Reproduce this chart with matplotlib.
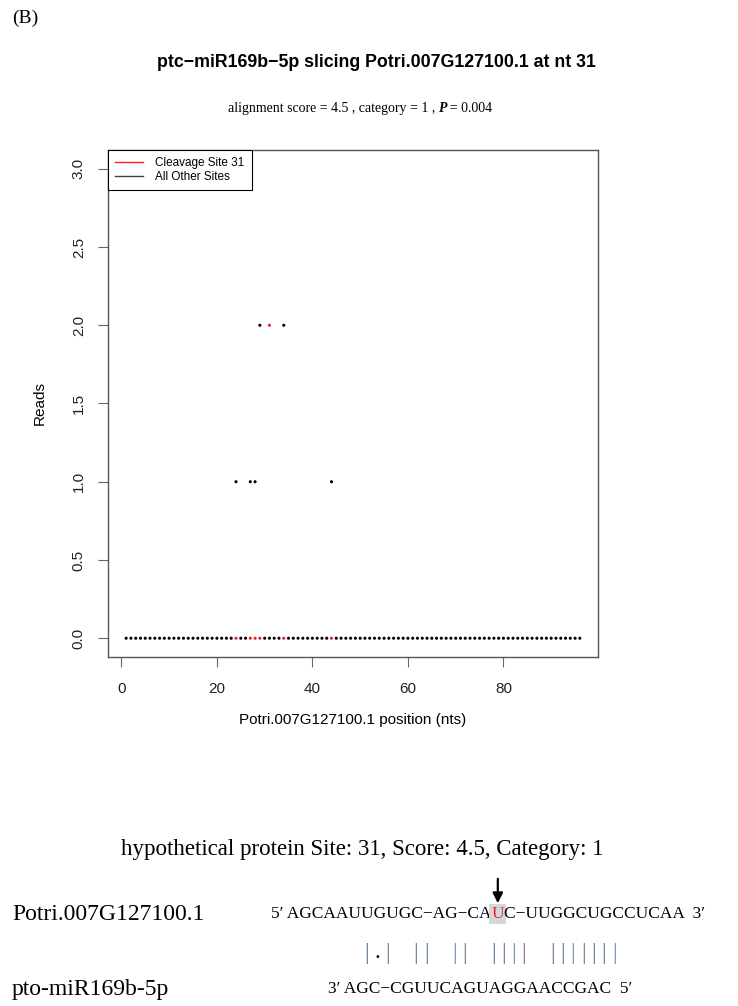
import numpy as np
import matplotlib.pyplot as plt
from matplotlib.lines import Line2D

W, H = 738, 1006

# transcript / degradome data
transcript_len = 96
site = 31
read_pos = [24, 27, 28, 29, 31, 34, 44]
read_val = [1, 1, 1, 2, 2, 2, 1]
x_ticks = [0, 20, 40, 60, 80]
y_ticks = [0.0, 0.5, 1.0, 1.5, 2.0, 2.5, 3.0]

target_id = "Potri.007G127100.1"
mirna_id = "pto-miR169b-5p"
target_left = "AGCAAUUGUGC−AG−CA"
target_site = "U"
target_right = "C−UUGGCUGCCUCAA"
mirna_seq = "AGC−CGUUCAGUAGGAACCGAC"
pair_str = "|.| || || |||| |||||||"

RED = "#e8222b"
SANS = ["Liberation Sans", "DejaVu Sans"]
SERIF = ["Liberation Serif", "DejaVu Serif"]

positions = np.arange(1, transcript_len + 1)
reads = np.zeros(transcript_len)
reads[np.array(read_pos) - 1] = read_val

fig = plt.figure(figsize=(W / 100, H / 100), dpi=100)
ax = fig.add_axes([108 / W, 1 - 657 / H, 490 / W, 507 / H])

# row of zero reads (all positions), with the tinted ones as in the original
zero_cols = [RED if (p in read_pos and p != site) else "black" for p in positions]
ax.scatter(positions, np.zeros(transcript_len), s=5, c=zero_cols, linewidths=0, zorder=3)
# non-zero reads
nz = reads > 0
nz_cols = [RED if p == site else "black" for p in positions[nz]]
ax.scatter(positions[nz], reads[nz], s=5, c=nz_cols, linewidths=0, zorder=3)

ax.set_xlim(1 - 0.04 * (transcript_len - 1), transcript_len + 0.04 * (transcript_len - 1))
ax.set_ylim(-0.12, 3.12)
ax.set_xticks(x_ticks)
ax.set_yticks(y_ticks)
ax.set_yticklabels([f"{v:.1f}" for v in y_ticks], rotation=90, va="center")
for s in ax.spines.values():
    s.set_color("#555555")
    s.set_linewidth(1.0)
ax.tick_params(direction="out", length=7, width=0.8, color="#666666",
               labelsize=11, labelcolor="#222222")
ax.tick_params(axis="x", pad=11)
ax.tick_params(axis="y", pad=9)
for lab in ax.get_xticklabels() + ax.get_yticklabels():
    lab.set_family(SANS)

ax.set_xlabel(f"{target_id} position (nts)", family=SANS, fontsize=11, labelpad=12)
ax.set_ylabel("Reads", family=SANS, fontsize=11, labelpad=18)

handles = [Line2D([], [], color="#ff2020", lw=1.0), Line2D([], [], color="#444444", lw=1.0)]
leg = ax.legend(handles, [f"Cleavage Site {site}", "All Other Sites"], loc="upper left",
                borderaxespad=0, fancybox=False, framealpha=1, handlelength=2.4,
                prop={"family": SANS, "size": 8.5}, borderpad=0.6, labelspacing=0.15,
                handletextpad=1.0)
leg.get_frame().set_edgecolor("black")
leg.get_frame().set_linewidth(0.8)

# overlay in pixel coordinates for the text blocks
ov = fig.add_axes([0, 0, 1, 1], zorder=-1)
ov.set_xlim(0, W)
ov.set_ylim(H, 0)
ov.axis("off")

renderer = fig.canvas.get_renderer()


def text_runs(x, y, parts, ha="left"):
    # draws consecutive text pieces side by side, returns the artists
    items = []
    for s, kw in parts:
        t = ov.text(0, y, s, va="center", ha="left", **kw)
        items.append(t)
    widths = [t.get_window_extent(renderer).width for t in items]
    x0 = x - sum(widths) / 2 if ha == "center" else x
    for t, w in zip(items, widths):
        t.set_x(x0)
        x0 += w
    return items


ov.text(12, 18, "(B)", family=SERIF, fontsize=14, va="center")
ov.text(376, 62, f"ptc−miR169b−5p slicing {target_id} at nt {site}", family=SANS,
        fontsize=12.8, fontweight="bold", ha="center", va="center")
sub_kw = {"family": SERIF, "fontsize": 10}
text_runs(360, 108, [("alignment score = 4.5 , category = 1 , ", sub_kw),
                     ("P", {"family": SERIF, "fontsize": 10, "fontweight": "bold", "style": "italic"}),
                     ("\u2009= 0.004", sub_kw)], ha="center")

ov.text(362, 850, f"hypothetical protein Site: {site}, Score: 4.5, Category: 1",
        family=SERIF, fontsize=16.5, ha="center", va="center")

seq_kw = {"family": SERIF, "fontsize": 12.5}
lab_kw = {"family": SERIF, "fontsize": 17}
ov.text(12, 914, target_id, va="center", **lab_kw)
ov.text(12, 989, mirna_id, va="center", **lab_kw)

runs = text_runs(271, 914, [
    ("5′ " + target_left, seq_kw),
    (target_site, {"family": SERIF, "fontsize": 12.5, "color": RED,
                   "bbox": {"facecolor": "#d6d6d6", "edgecolor": "none", "pad": 1.5}}),
    (target_right + "  3′", seq_kw),
])
ub = runs[1].get_window_extent(renderer)
ux = (ub.x0 + ub.x1) / 2
ov.annotate("", xy=(ux, 906), xytext=(ux, 876),
            arrowprops=dict(arrowstyle="-|>", color="black", lw=1.6, mutation_scale=15))

ov.text(328, 989, "3′ " + mirna_seq + "  5′", va="center", **seq_kw)

bar_cols = ["#5d7893", "#6f8fab", "#8a6f8f", "#5d7893"]
bx = 367
k = 0
for ch in pair_str:
    if ch == " ":
        bx += 18
        continue
    col = "black" if ch == "." else bar_cols[k % len(bar_cols)]
    ov.text(bx, 953, ch, family=SERIF, fontsize=17, color=col, ha="center", va="center")
    bx += 10.3
    k += 1

fig.savefig("out.png", dpi=100)
